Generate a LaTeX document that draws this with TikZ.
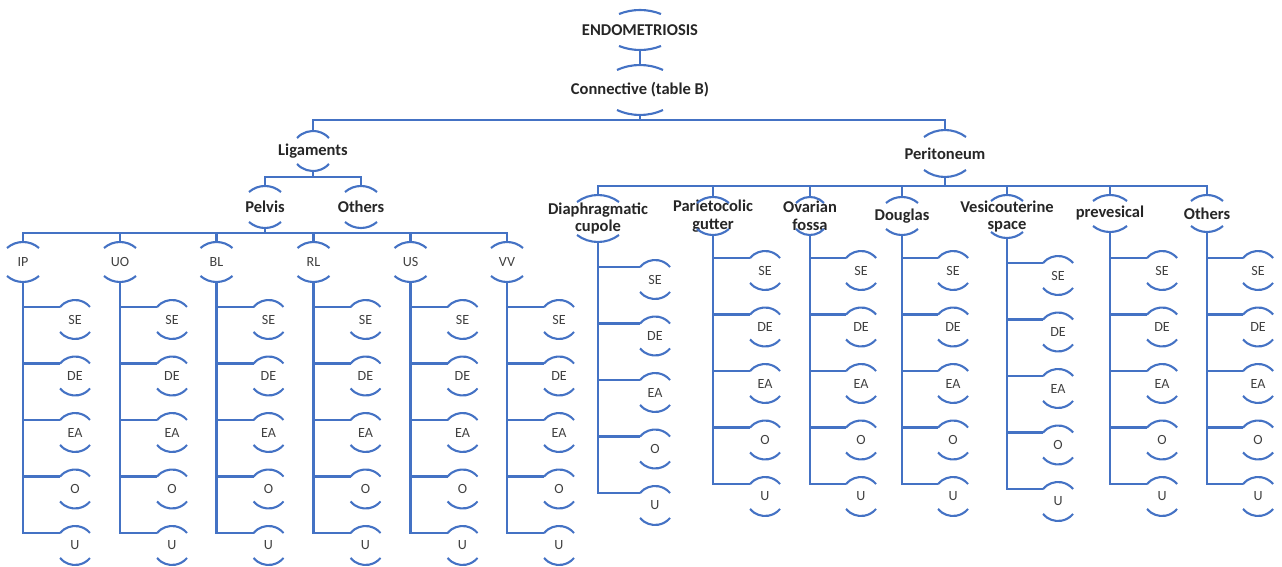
\documentclass[tikz,border=0pt]{standalone}
\usepackage{fontspec}
\setmainfont{Carlito}
\usetikzlibrary{calc}
\definecolor{lineblue}{HTML}{4472C4}
\definecolor{txtgrey}{HTML}{404040}
\tikzset{
  conn/.style={draw=lineblue, line width=1.4pt},
  arcs/.style={draw=lineblue, line width=1.2pt},
  lbl/.style={inner sep=0pt, align=center, font=\fontsize{9.4}{10}\selectfont\bfseries, text=black!85},
  leaf/.style={inner sep=0pt, align=center, font=\fontsize{8}{9}\selectfont, text=txtgrey},
}
% #1 style, #2 name, #3 x, #4 y (px down), #5 half height, #6 half width, #7 sag, #8 text
\newcommand\bub[8]{%
  \node[#1] (#2) at (#3,-#4) {#8};
  \pgfmathsetmacro\bubR{(#6*#6+#7*#7)/(2*#7)}%
  \pgfmathsetmacro\bubT{asin(#6/\bubR)}%
  \coordinate (#2-t) at (#3,-#4+#5);
  \coordinate (#2-b) at (#3,-#4-#5);
  \coordinate (#2-l) at (#3-#6,-#4+#5-#7);
  \draw[arcs] (#2-l) arc[start angle=90+\bubT, end angle=90-\bubT, radius=\bubR];
  \draw[arcs] (#3-#6,-#4-#5+#7) arc[start angle=270-\bubT, end angle=270+\bubT, radius=\bubR];
}
% #1 name, #2 column x, #3 first branch y, #4 leaf offset
\newcommand\leaves[4]{%
  \foreach [count=\i] \lab in {SE,DE,EA,O,U} {
    \pgfmathsetmacro\leafy{#3+(\i-1)*56.5+12.5}
    \bub{leaf}{#1\i}{#2+#4}{\leafy}{19.5}{15}{7}{\lab}
    \draw[conn] (#1-b) |- (#1\i-l);
  }
}
\begin{document}
\begin{tikzpicture}[x=0.02cm, y=0.02cm]
\useasboundingbox (0,0) rectangle (1282,-567);
% top
\bub{lbl}{endo}{640}{30}{20}{21}{4}{ENDOMETRIOSIS}
\bub{lbl}{cnt}{640}{90}{25}{23}{5}{Connective (table B)}
\draw[conn] (endo-b) -- (cnt-t);
\coordinate (bus1) at (640,-120);
\draw[conn] (cnt-b) -- (bus1);
% level 2
\bub{lbl}{lig}{313}{151}{20}{16}{7}{Ligaments}
\bub{lbl}{per}{945}{153.5}{23.5}{21}{7}{Peritoneum}
\draw[conn] (lig-t) |- (bus1) -| (per-t);
% ligaments
\coordinate (bus2) at (313,-177);
\draw[conn] (lig-b) -- (bus2);
\bub{lbl}{pel}{265}{207}{21}{16}{6}{Pelvis}
\bub{lbl}{oth}{361}{207}{21}{16}{6}{Others}
\draw[conn] (pel-t) |- (bus2) -| (oth-t);
\coordinate (bus3) at (265,-233);
\draw[conn] (pel-b) -- (bus3);
\bub{leaf}{ip}{23}{262}{20}{16}{6}{IP}
\bub{leaf}{uo}{120}{262}{20}{16}{6}{UO}
\bub{leaf}{bl}{216.5}{262}{20}{16}{6}{BL}
\bub{leaf}{rl}{313.5}{262}{20}{16}{6}{RL}
\bub{leaf}{us}{410.5}{262}{20}{16}{6}{US}
\bub{leaf}{vv}{507}{262}{20}{16}{6}{VV}
\draw[conn] (ip-t) |- (bus3) -| (vv-t);
\foreach \n in {uo,bl,rl,us} \draw[conn] (\n-t) -- (\n-t |- bus3);
\leaves{ip}{23}{307}{52}
\leaves{uo}{120}{307}{52}
\leaves{bl}{216.5}{307}{52}
\leaves{rl}{313.5}{307}{52}
\leaves{us}{410.5}{307}{52}
\leaves{vv}{507}{307}{52}
% peritoneum
\coordinate (bus4) at (945,-186);
\draw[conn] (per-b) -- (bus4);
\bub{lbl}{dc}{598}{218.5}{23.5}{21}{7}{Diaphragmatic\\cupole}
\bub{lbl}{pg}{713}{216}{19}{16}{6}{Parietocolic\\gutter}
\bub{lbl}{of}{810}{216}{19}{14}{6}{Ovarian\\fossa}
\bub{lbl}{dg}{902}{216}{19}{16}{6}{Douglas}
\bub{lbl}{vs}{1007}{216.5}{21.5}{16}{6}{Vesicouterine\\space}
\bub{lbl}{pv}{1110}{213.5}{18.5}{17}{6}{prevesical}
\bub{lbl}{ot}{1207}{213.5}{18.5}{16}{6}{Others}
\draw[conn] (dc-t) |- (bus4) -| (ot-t);
\foreach \n in {pg,of,dg,vs,pv} \draw[conn] (\n-t) -- (\n-t |- bus4);
\leaves{dc}{598}{267}{57}
\leaves{pg}{713}{258}{52}
\leaves{of}{810}{258}{51}
\leaves{dg}{902}{258}{51}
\leaves{vs}{1007}{263}{51}
\leaves{pv}{1110}{258}{52}
\leaves{ot}{1207}{258}{51}
\end{tikzpicture}
\end{document}
